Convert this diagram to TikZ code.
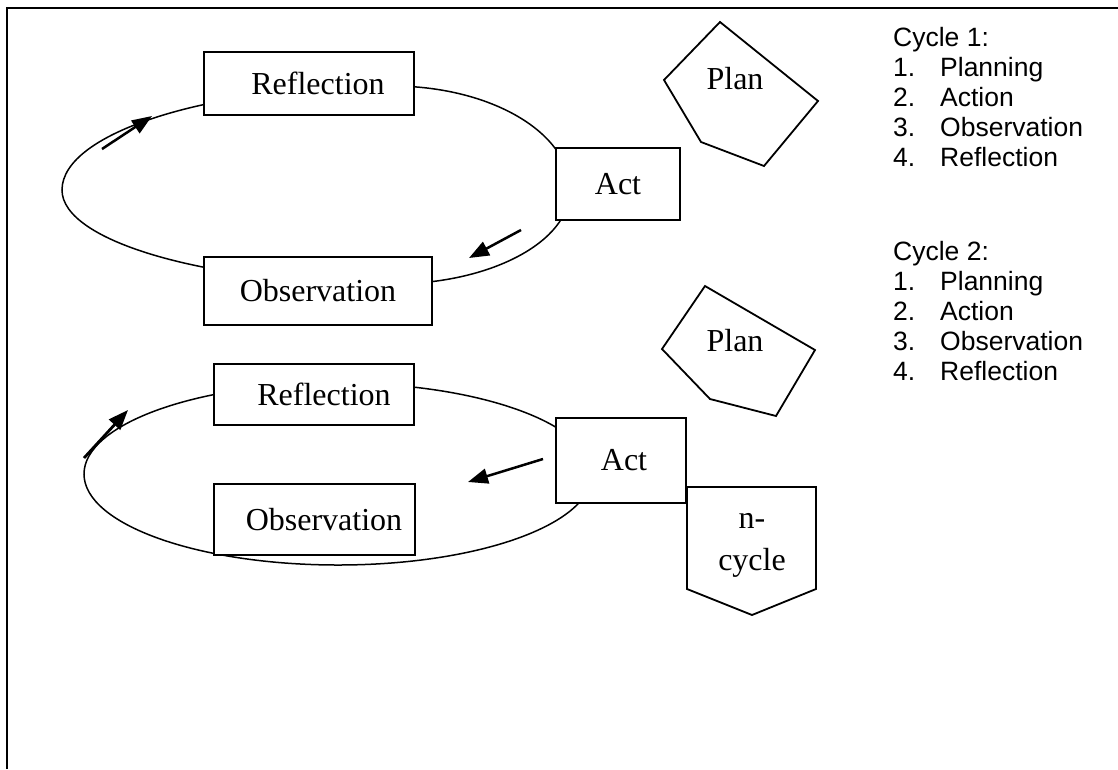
\documentclass[tikz,border=0pt]{standalone}
\usepackage{fontspec}
\setmainfont{Liberation Serif}
\newfontfamily\arialfont{Liberation Sans}
\usetikzlibrary{shapes.geometric,arrows.meta}
\begin{document}
\begin{tikzpicture}[x=1pt,y=-1pt,
  box/.style={draw, line width=1.8pt, fill=white, inner sep=0pt, font=\fontsize{32}{36}\selectfont},
  loop/.style={draw, ellipse, line width=1.5pt, inner sep=0pt},
  loopline/.style={line width=1.5pt},
  flow/.style={line width=2.5pt, -{Triangle[length=20pt,width=15pt]}},
  shp/.style={line width=1.8pt, line join=miter},
  lbl/.style={font=\fontsize{32}{36}\selectfont, inner sep=0pt, anchor=base},
  lst/.style={font=\arialfont\fontsize{26.5}{30}\selectfont, anchor=base west, inner sep=0pt}]

\useasboundingbox (0,0) rectangle (1118,769);
\coordinate (fbl) at (7,769);
\coordinate (ftl) at (7,8);
\coordinate (ftr) at (1118,8);
\draw[line width=2pt] (fbl) -- (ftl) -- (ftr);

% loop 1 (egg-shaped oval)
\coordinate (l1top) at (392,86);
\draw[loopline] (l1top)
  arc[start angle=90, end angle=180, x radius=330pt, y radius=104pt]
  arc[start angle=180, end angle=270, x radius=330pt, y radius=94pt]
  arc[start angle=270, end angle=360, x radius=178pt, y radius=94pt]
  arc[start angle=0, end angle=90, x radius=178pt, y radius=104pt] -- cycle;

% loop 2
\node[loop, minimum width=508pt, minimum height=182pt] (loop2) at (338,474) {};

% cycle 1 boxes
\node[box, minimum width=210pt, minimum height=63pt] (refl1) at (309,83.5) {\hspace*{18pt}Reflection};
\node[box, minimum width=124pt, minimum height=72pt] (act1) at (618,184) {Act};
\node[box, minimum width=228pt, minimum height=68pt] (obs1) at (318,291) {Observation};

% cycle 2 boxes
\node[box, minimum width=200pt, minimum height=61pt] (refl2) at (314,394.5) {\hspace*{20pt}Reflection};
\node[box, minimum width=201pt, minimum height=71pt] (obs2) at (314.5,519.5) {\hspace*{19pt}Observation};
\node[box, minimum width=130pt, minimum height=85pt] (act2) at (621,460.5) {\hspace*{6pt}Act};

% arrows
\coordinate (a1s) at (102,149); \coordinate (a1e) at (152,116);
\draw[flow] (a1s) -- (a1e);
\coordinate (a2s) at (521,230); \coordinate (a2e) at (469,258);
\draw[flow] (a2s) -- (a2e);
\coordinate (a3s) at (84,458); \coordinate (a3e) at (128,410);
\draw[flow, line width=2.8pt] (a3s) -- (a3e);
\coordinate (a4s) at (543,459); \coordinate (a4e) at (468,482);
\draw[flow] (a4s) -- (a4e);

% plan pentagons
\draw[shp] (720,22) -- (818,101) -- (764,166) -- (701,142) -- (664,80) -- cycle;
\node[lbl] (plan1) at (735,89) {Plan};
\draw[shp] (705,286) -- (815,350) -- (776,416) -- (710,399) -- (662,349) -- cycle;
\node[lbl] (plan2) at (735,351) {Plan};

% n-cycle
\draw[shp] (687,487) -- (816,487) -- (816,589) -- (752,615) -- (687,589) -- cycle;
\node[lbl] (ncyc1) at (752,528) {n-};
\node[lbl] (ncyc2) at (752,570) {cycle};

% lists
\node[lst] (c1h) at (893,46) {Cycle 1:};
\node[lst] (c1a) at (893,76) {\makebox[47pt][l]{1.}Planning};
\node[lst] (c1b) at (893,106) {\makebox[47pt][l]{2.}Action};
\node[lst] (c1c) at (893,136) {\makebox[47pt][l]{3.}Observation};
\node[lst] (c1d) at (893,166) {\makebox[47pt][l]{4.}Reflection};

\node[lst] (c2h) at (893,260) {Cycle 2:};
\node[lst] (c2a) at (893,290) {\makebox[47pt][l]{1.}Planning};
\node[lst] (c2b) at (893,320) {\makebox[47pt][l]{2.}Action};
\node[lst] (c2c) at (893,350) {\makebox[47pt][l]{3.}Observation};
\node[lst] (c2d) at (893,380) {\makebox[47pt][l]{4.}Reflection};
\end{tikzpicture}
\end{document}
